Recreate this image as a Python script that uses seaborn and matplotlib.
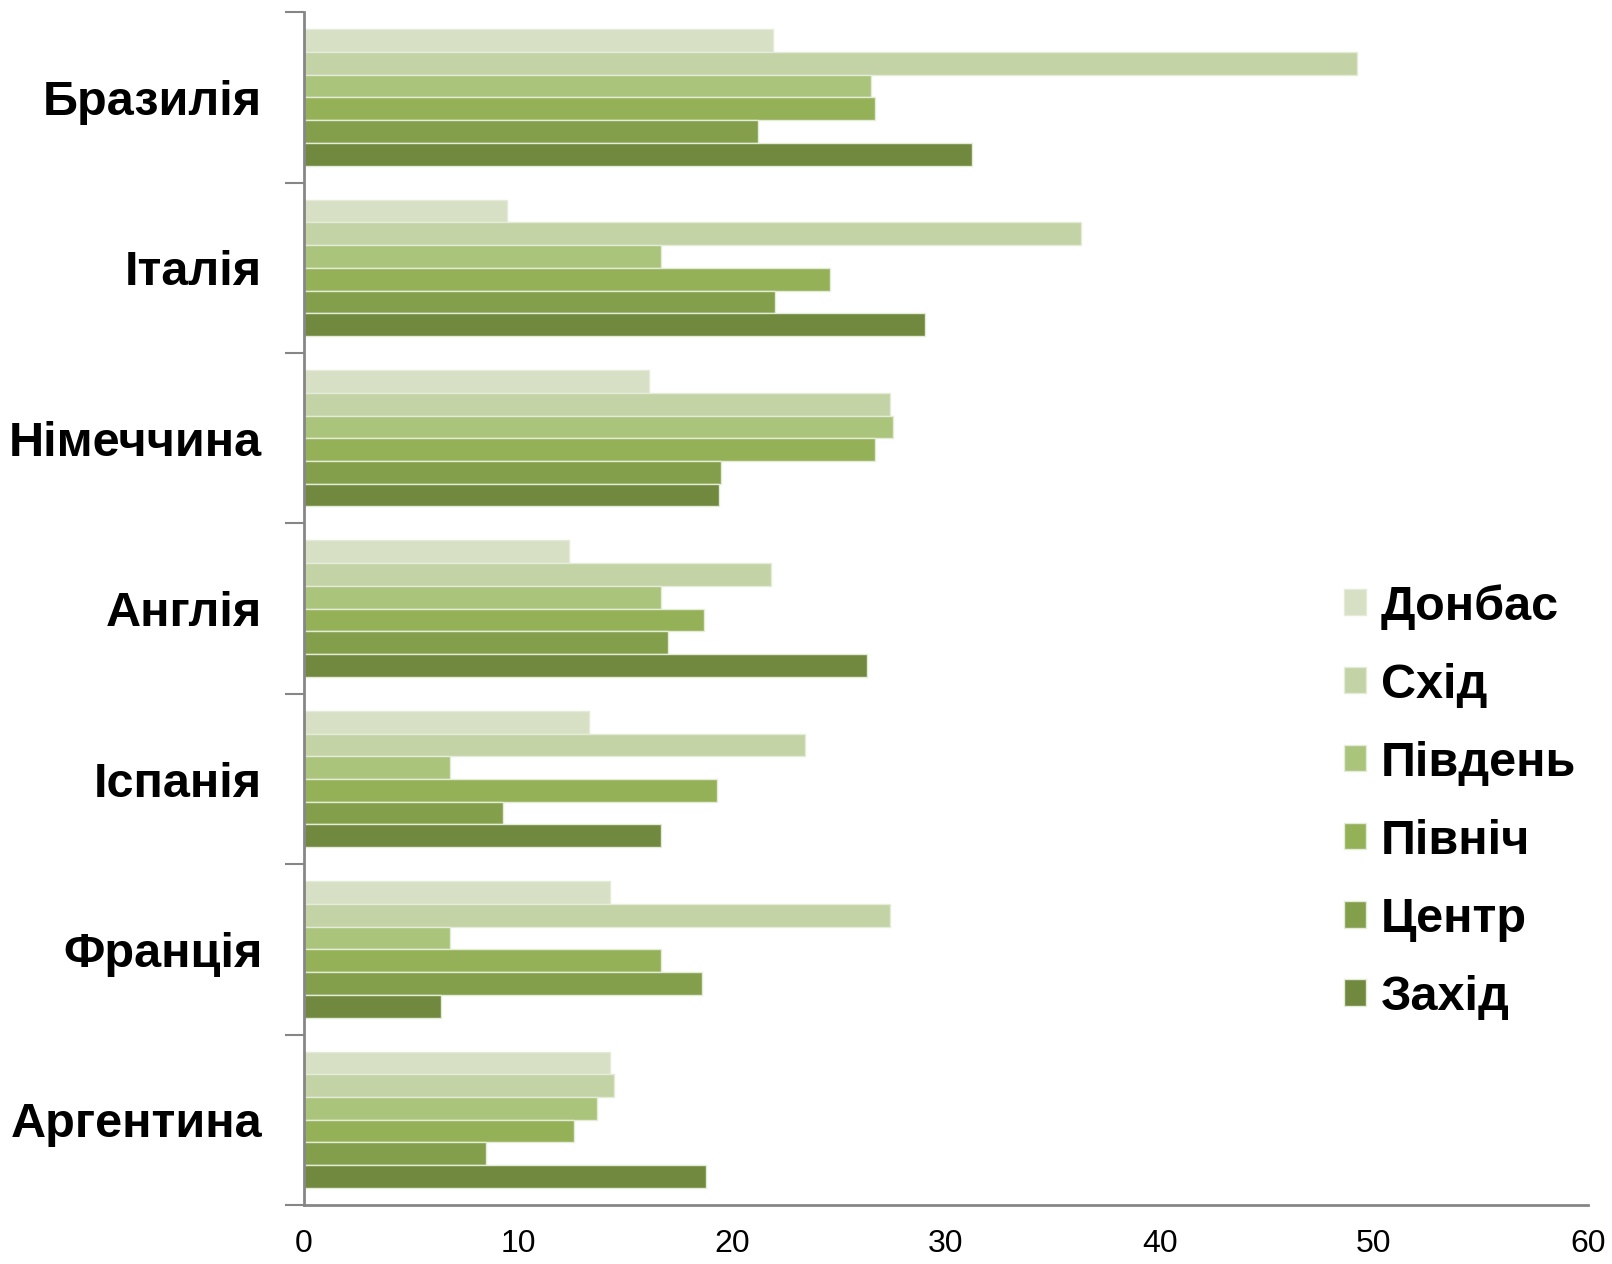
import numpy as np
import pandas as pd
import matplotlib
matplotlib.use("Agg")
import matplotlib.pyplot as plt
import seaborn as sns

# -------------------------------
# Data
# -------------------------------
countries = ["Бразилія", "Італія", "Німеччина", "Англія", "Іспанія", "Франція", "Аргентина"]
regions = ["Донбас", "Схід", "Південь", "Північ", "Центр", "Захід"]

donbas = [21.9, 9.5, 16.1, 12.4, 13.3, 14.3, 14.3]
skhid = [49.2, 36.3, 27.4, 21.8, 23.4, 27.4, 14.5]
pivden = [26.5, 16.7, 27.5, 16.7, 6.8, 6.8, 13.7]
pivnich = [26.7, 24.6, 26.7, 18.7, 19.3, 16.7, 12.6]
tsentr = [21.2, 22.0, 19.5, 17.0, 9.3, 18.6, 8.5]
zakhid = [31.2, 29.0, 19.4, 26.3, 16.7, 6.4, 18.8]

colors = ["#D7E0C5", "#C3D3A6", "#AAC47B", "#95B157", "#839F4B", "#71893E"]

series = [donbas, skhid, pivden, pivnich, tsentr, zakhid]
rows = []
for region, vals in zip(regions, series):
    for country, v in zip(countries, vals):
        rows.append({"country": country, "region": region, "value": v})
df = pd.DataFrame(rows)

# -------------------------------
# Plot
# -------------------------------
sns.set_style("white")
plt.rcParams["font.family"] = ["Liberation Sans", "DejaVu Sans"]
plt.rcParams["text.color"] = "black"
plt.rcParams["xtick.color"] = "black"
plt.rcParams["ytick.color"] = "black"

fig = plt.figure(figsize=(16.12, 12.64), dpi=100)
ax = fig.add_axes([0.1886, 0.0467, 0.7965, 0.9436])

sns.barplot(
    data=df, x="value", y="country", hue="region",
    order=countries, hue_order=regions, palette=colors,
    orient="h", width=0.8, saturation=1,
    edgecolor="#E4EBD8", linewidth=1, ax=ax
)

ax.set_xlim(0, 60)
ax.set_ylim(len(countries) - 0.5, -0.5)
ax.set_xlabel("")
ax.set_ylabel("")

# axes styling
for s in ["top", "right"]:
    ax.spines[s].set_visible(False)
for s in ["left", "bottom"]:
    ax.spines[s].set_color("#868686")
    ax.spines[s].set_linewidth(2)

ax.set_xticks(range(0, 61, 10))
ax.tick_params(axis="x", direction="out", length=9, width=1.2, color="#868686",
               labelcolor="black", pad=8, labelsize=23)

ax.set_yticks(np.arange(len(countries)))
ax.set_yticklabels(countries, fontsize=35, fontweight="bold", color="black")
ax.tick_params(axis="y", which="major", length=0, pad=30)
ax.set_yticks(np.arange(-0.5, len(countries)), minor=True)
ax.tick_params(axis="y", which="minor", direction="out", length=14, width=1.5,
               color="#868686", left=True)

leg = ax.legend(
    loc="center left", bbox_to_anchor=(0.776, 0.338), frameon=False,
    prop={"size": 35, "weight": "bold"}, handlelength=0.45, handleheight=0.45,
    handletextpad=0.3, labelspacing=0.68
)
for t in leg.get_texts():
    t.set_color("black")

fig.savefig("out.png", dpi=100)
